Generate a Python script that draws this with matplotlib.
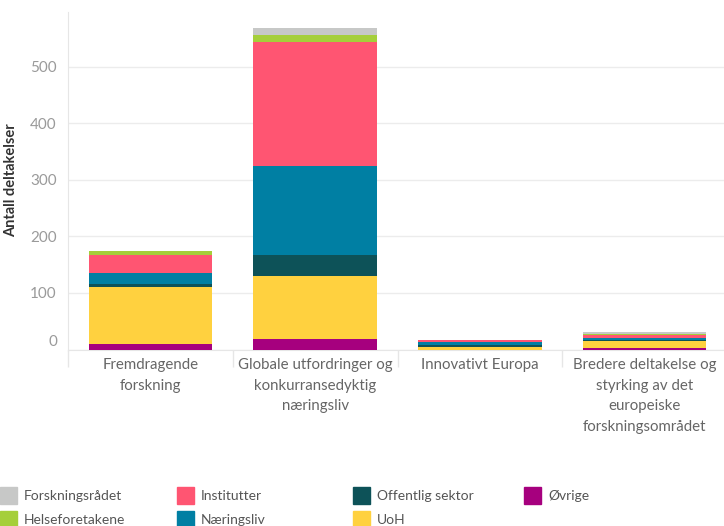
import matplotlib
matplotlib.use("Agg")
import matplotlib.pyplot as plt
from matplotlib.patches import Rectangle
import numpy as np

plt.rcParams['font.family'] = ['Lato', 'DejaVu Sans']

categories = ["Fremdragende\nforskning",
              "Globale utfordringer og\nkonkurransedyktig\nnæringsliv",
              "Innovativt Europa",
              "Bredere deltakelse og\nstyrking av det\neuropeiske\nforskningsområdet"]

# stacked from bottom to top
series_names = ["Øvrige", "UoH", "Offentlig sektor", "Næringsliv",
                "Institutter", "Helseforetakene", "Forskningsrådet"]
ovrige          = [9, 18, 0, 2]
uoh             = [101, 112, 5, 13]
offentlig       = [6, 38, 3, 2]
naeringsliv     = [19, 157, 6, 4]
institutter     = [33, 219, 2, 4]
helseforetakene = [6, 13, 0, 2]
forskningsradet = [0, 12, 1, 4]
values = [ovrige, uoh, offentlig, naeringsliv, institutter, helseforetakene, forskningsradet]
colors = {"Øvrige": "#a6007e", "UoH": "#ffd13f", "Offentlig sektor": "#0d5258",
          "Næringsliv": "#007fa3", "Institutter": "#ff5572",
          "Helseforetakene": "#a5cf3a", "Forskningsrådet": "#c7c8c7"}
legend_order = ["Forskningsrådet", "Helseforetakene", "Institutter", "Næringsliv",
                "Offentlig sektor", "UoH", "Øvrige"]
yticks = [0, 100, 200, 300, 400, 500]

W, H = 724, 526
fig = plt.figure(figsize=(W / 100, H / 100), dpi=100)
ax = fig.add_axes([68 / W, (H - 349.5) / H, 659 / W, (349.5 - 12) / H])

x = np.arange(len(categories))
bottom = np.zeros(len(categories))
for name, vals in zip(series_names, values):
    ax.bar(x, vals, width=0.75, bottom=bottom, color=colors[name], linewidth=0, zorder=3)
    bottom += np.array(vals)

ax.set_xlim(-0.5, 3.5)
ax.set_ylim(0, 597)
ax.set_yticks(yticks)
ax.set_yticklabels([str(t) for t in yticks], color="#9a9a9a", fontsize=11)
ax.get_yticklabels()[0].set_va('bottom')
ax.yaxis.grid(True, color="#ececec", linewidth=1, zorder=0)
ax.tick_params(axis='y', length=0, pad=8)
ax.set_xticks(x)
ax.set_xticklabels(categories, color="#666666", fontsize=10.8, linespacing=1.62, va='top')
ax.tick_params(axis='x', length=0, pad=6)
# category separators below axis
ax.set_xticks(np.arange(-0.5, 4, 1), minor=True)
ax.tick_params(axis='x', which='minor', length=12, color="#e6e6e6", width=1)
for s in ['top', 'right']:
    ax.spines[s].set_visible(False)
ax.spines['left'].set_color("#e6e6e6")
ax.spines['bottom'].set_color("#e6e6e6")
ax.set_ylabel("Antall deltakelser", fontsize=10.5, fontweight='bold', color="#333333")
ax.yaxis.set_label_coords(18 / W, (H - 180) / H, transform=fig.transFigure)

# legend (column-major, 2 rows)
col_x = [0, 177, 353, 524]
row_y = [487, 511]
for i, name in enumerate(legend_order):
    c, r = divmod(i, 2)
    x0, y0 = col_x[c], row_y[r]
    fig.patches.append(Rectangle((x0 / W, 1 - (y0 + 17) / H), 17 / W, 17 / H,
                                 transform=fig.transFigure, color=colors[name]))
    fig.text((x0 + 24) / W, 1 - (y0 + 9) / H, name, fontsize=10, color="#555555",
             va='center', ha='left')

fig.savefig("out.png", dpi=100)
